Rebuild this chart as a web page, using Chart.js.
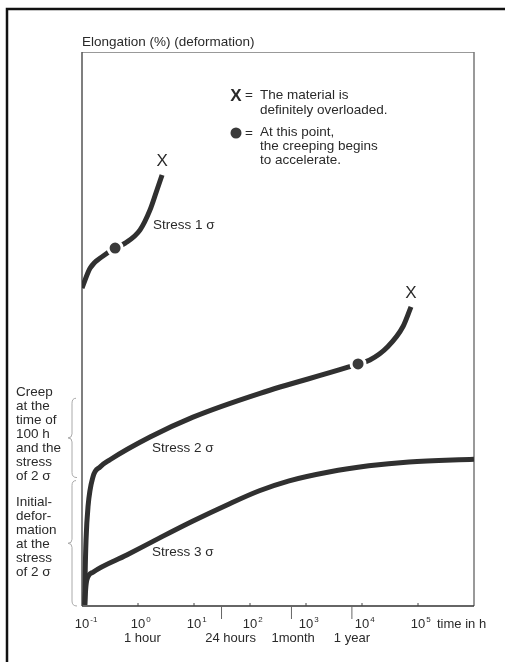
<!DOCTYPE html>
<html>
<head>
<meta charset="utf-8">
<script src="https://cdn.jsdelivr.net/npm/chart.js@4.4.1/dist/chart.umd.min.js"></script>
<style>
  html, body { margin: 0; padding: 0; background: #fff; }
  canvas { display: block; }
</style>
</head>
<body>
<canvas id="canvas" width="505" height="662"></canvas>
<script>
// time in hours (log axis) / elongation in arbitrary units (0..100)
const stress1Hours  = [0.1, 0.14, 0.24, 0.39, 0.59, 1.09, 1.64, 2.18, 2.69];
const stress1Values = [57.4, 61.0, 63.2, 64.6, 65.5, 67.9, 71.5, 75.1, 77.8];

const stress2Hours  = [0.112, 0.114, 0.118, 0.128, 0.157, 0.21, 0.316, 1.64, 9.6, 151, 5620, 8500, 13800, 28800, 53700, 75000];
const stress2Values = [0.2, 6.0, 11.9, 17.9, 23.3, 25.1, 26.4, 30.5, 34.1, 38.4, 43.1, 43.7, 44.4, 46.8, 50.4, 54.0];

const stress3Hours  = [0.112, 0.116, 0.122, 0.157, 0.63, 2.44, 9.4, 38, 147, 500, 2570, 13200, 69000, 1000000];
const stress3Values = [0.2, 2.9, 4.7, 6.1, 9.2, 12.3, 15.3, 18.2, 20.8, 22.6, 24.2, 25.3, 26.0, 26.5];

// points where creep begins to accelerate
const dotHours  = [0.39, 8500];
const dotValues = [64.6, 43.7];

const seriesNames = ['Stress 1 σ', 'Stress 2 σ', 'Stress 3 σ'];

// x axis
const decadeTicks = [0.1, 1, 10, 100, 1000, 10000, 100000];
const decadeExps  = ['-1', '0', '1', '2', '3', '4', '5'];
const markHours   = [31, 550, 6600];               // 24 hours, 1 month, 1 year marks
const timeLabels  = ['1 hour', '24 hours', '1month', '1 year'];
const timeLabelHours = [1.2, 45, 590, 6600];

// braces on the left (elongation levels)
const braceLevels = [0, 23, 37.5];
const creepText   = ['Creep', 'at the', 'time of', '100 h', 'and the', 'stress', 'of 2 σ'];
const initialText = ['Initial-', 'defor-', 'mation', 'at the', 'stress', 'of 2 σ'];

const FONT = '"Liberation Sans", Arial, sans-serif';
const INK = '#2a2a2a';
const LINE = '#303030';

function pts(xs, ys) { return xs.map((x, i) => ({ x: x, y: ys[i] })); }

function brace(ctx, x, top, bot) {
  const mid = (top + bot) / 2;
  ctx.beginPath();
  ctx.moveTo(x + 4, top);
  ctx.quadraticCurveTo(x, top, x, top + 5);
  ctx.lineTo(x, mid - 4);
  ctx.quadraticCurveTo(x, mid, x - 4, mid);
  ctx.quadraticCurveTo(x, mid, x, mid + 4);
  ctx.lineTo(x, bot - 5);
  ctx.quadraticCurveTo(x, bot, x + 5, bot);
  ctx.stroke();
}

const decorations = {
  id: 'decorations',
  beforeDatasetsDraw(chart) {
    const ctx = chart.ctx, a = chart.chartArea;
    ctx.save();
    // outer frame
    ctx.strokeStyle = '#111';
    ctx.lineWidth = 2.5;
    ctx.beginPath();
    ctx.moveTo(7, 662); ctx.lineTo(7, 9); ctx.lineTo(505, 9);
    ctx.stroke();
    // plot box
    ctx.lineWidth = 1;
    ctx.strokeStyle = '#999';
    ctx.beginPath();
    ctx.moveTo(a.left, a.top + 0.5); ctx.lineTo(a.right, a.top + 0.5);
    ctx.stroke();
    ctx.lineWidth = 1.5;
    ctx.strokeStyle = '#777';
    ctx.beginPath();
    ctx.moveTo(a.right, a.top); ctx.lineTo(a.right, a.bottom);
    ctx.stroke();
    ctx.strokeStyle = '#555';
    ctx.beginPath();
    ctx.moveTo(a.left, a.top); ctx.lineTo(a.left, a.bottom);
    ctx.stroke();
    ctx.strokeStyle = '#333';
    ctx.beginPath();
    ctx.moveTo(a.left, a.bottom); ctx.lineTo(a.right, a.bottom);
    ctx.stroke();
    ctx.restore();
  },
  afterDraw(chart) {
    const ctx = chart.ctx, a = chart.chartArea;
    const xs = chart.scales.x, ys = chart.scales.y;
    ctx.save();
    ctx.fillStyle = INK;
    ctx.strokeStyle = '#444';
    ctx.lineWidth = 1;

    // decade ticks and labels
    decadeTicks.forEach((h, i) => {
      const px = xs.getPixelForValue(h);
      if (i > 0) {
        ctx.beginPath();
        ctx.moveTo(px, a.bottom); ctx.lineTo(px, a.bottom - 3);
        ctx.stroke();
      }
      ctx.font = '13px ' + FONT;
      ctx.textAlign = 'center';
      ctx.textBaseline = 'middle';
      ctx.fillText('10', px, a.bottom + 18);
      const w = ctx.measureText('10').width;
      ctx.font = '8px ' + FONT;
      ctx.textAlign = 'left';
      ctx.fillText(decadeExps[i], px + w / 2 + 1, a.bottom + 14);
    });
    ctx.font = '13px ' + FONT;
    ctx.textAlign = 'left';
    ctx.fillText('time in h', xs.getPixelForValue(100000) + 19, a.bottom + 18);

    // 24 h / month / year marks
    ctx.strokeStyle = '#666';
    markHours.forEach(h => {
      const px = xs.getPixelForValue(h);
      ctx.beginPath();
      ctx.moveTo(px, a.bottom); ctx.lineTo(px, a.bottom + 13);
      ctx.stroke();
    });
    ctx.textAlign = 'center';
    timeLabels.forEach((t, i) => {
      ctx.fillText(t, xs.getPixelForValue(timeLabelHours[i]), a.bottom + 32);
    });

    // axis title
    ctx.textAlign = 'left';
    ctx.font = '13.5px ' + FONT;
    ctx.fillText('Elongation (%) (deformation)', a.left, a.top - 10);

    // series labels
    ctx.font = '13.5px ' + FONT;
    ctx.fillText(seriesNames[0], 153, 225);
    ctx.fillText(seriesNames[1], 152, 448);
    ctx.fillText(seriesNames[2], 152, 552);

    // X at end of stress 1 and 2
    ctx.font = '17px ' + FONT;
    ctx.textAlign = 'center';
    [[stress1Hours, stress1Values], [stress2Hours, stress2Values]].forEach(([hs, vs]) => {
      const n = hs.length - 1;
      ctx.fillText('X', xs.getPixelForValue(hs[n]), ys.getPixelForValue(vs[n]) - 14);
    });

    // legend
    ctx.font = 'bold 17px ' + FONT;
    ctx.fillText('X', 236, 96);
    ctx.font = '13.5px ' + FONT;
    ctx.fillText('=', 249, 95);
    ctx.fillText('=', 249, 133);
    ctx.textAlign = 'left';
    ctx.fillText('The material is', 260, 95);
    ctx.fillText('definitely overloaded.', 260, 110);
    ctx.fillText('At this point,', 260, 132);
    ctx.fillText('the creeping begins', 260, 146);
    ctx.fillText('to accelerate.', 260, 160);
    ctx.fillStyle = '#3a3a3a';
    ctx.beginPath();
    ctx.arc(236, 133, 5.5, 0, Math.PI * 2);
    ctx.fill();

    // left annotations
    ctx.fillStyle = INK;
    ctx.font = '13.5px ' + FONT;
    creepText.forEach((t, i) => ctx.fillText(t, 16, 392 + i * 14));
    initialText.forEach((t, i) => ctx.fillText(t, 16, 502 + i * 14));

    ctx.strokeStyle = '#aaa';
    ctx.lineWidth = 1;
    const y0 = ys.getPixelForValue(braceLevels[0]);
    const y1 = ys.getPixelForValue(braceLevels[1]);
    const y2 = ys.getPixelForValue(braceLevels[2]);
    brace(ctx, 72, y2, y1 - 1);
    brace(ctx, 72, y1 + 2, y0);
    ctx.restore();
  }
};

const lineStyle = {
  borderColor: LINE,
  borderWidth: 5,
  pointRadius: 0,
  cubicInterpolationMode: 'monotone',
  fill: false,
  order: 1
};

new Chart(document.getElementById('canvas'), {
  type: 'line',
  data: {
    datasets: [
      {
        type: 'scatter',
        label: 'dots',
        data: pts(dotHours, dotValues),
        pointRadius: 7,
        pointBackgroundColor: '#3a3a3a',
        pointBorderColor: '#fff',
        pointBorderWidth: 3,
        showLine: false,
        order: 0
      },
      Object.assign({ label: seriesNames[0], data: pts(stress1Hours, stress1Values) }, lineStyle),
      Object.assign({ label: seriesNames[1], data: pts(stress2Hours, stress2Values) }, lineStyle),
      Object.assign({ label: seriesNames[2], data: pts(stress3Hours, stress3Values) }, lineStyle)
    ]
  },
  options: {
    responsive: false,
    animation: false,
    layout: { padding: { left: 82, right: 31, top: 52, bottom: 56 } },
    scales: {
      x: { type: 'logarithmic', min: 0.1, max: 1000000, display: false },
      y: { type: 'linear', min: 0, max: 100, display: false }
    },
    plugins: {
      legend: { display: false },
      tooltip: { enabled: false }
    }
  },
  plugins: [decorations]
});
</script>
</body>
</html>
